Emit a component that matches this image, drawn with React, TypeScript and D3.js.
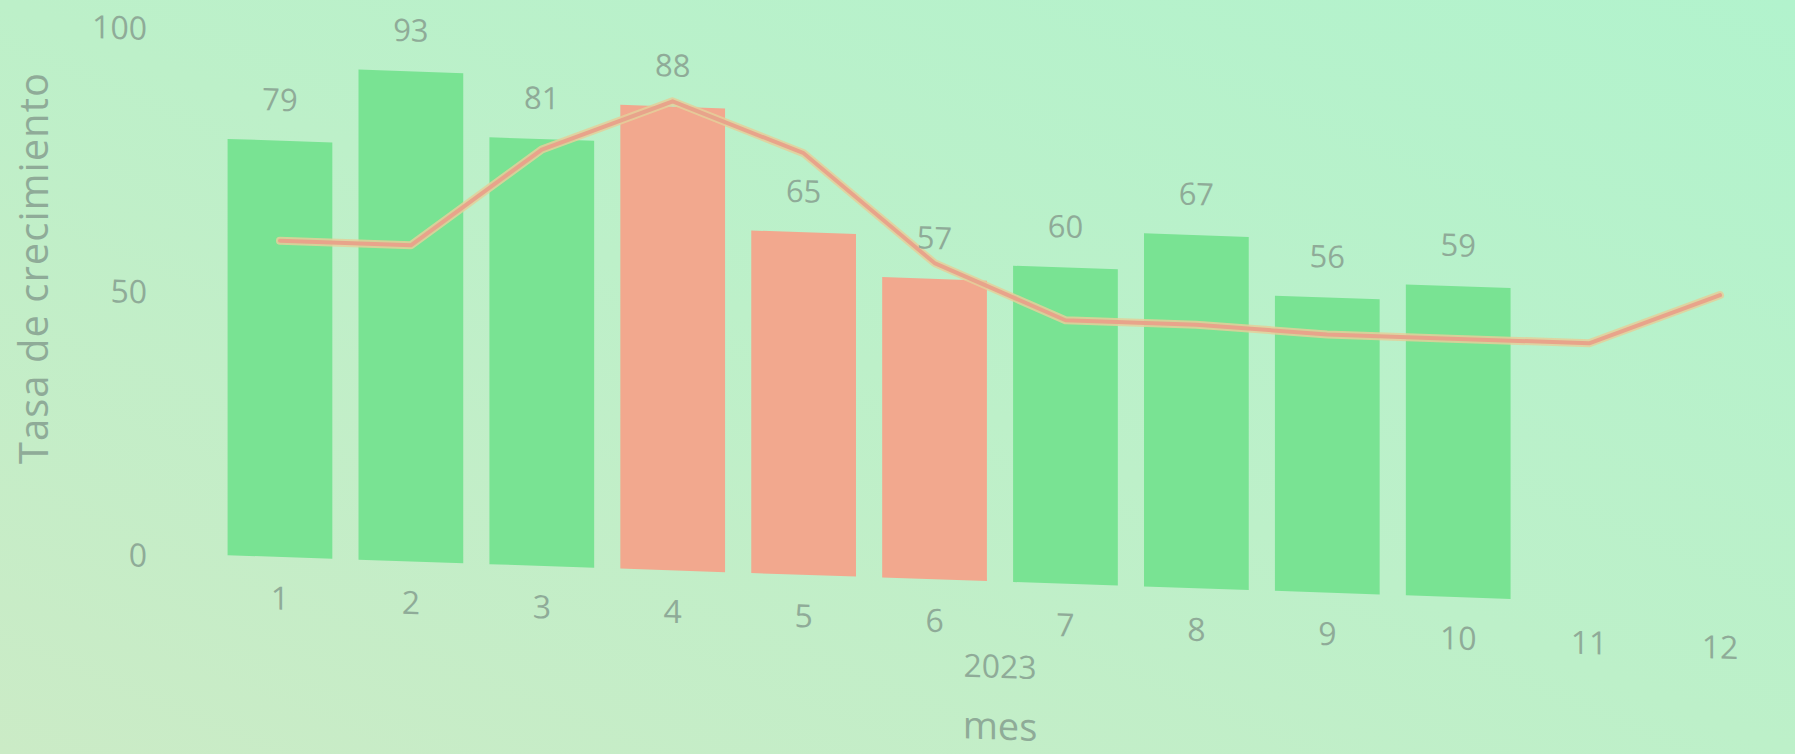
import React from "react";
import * as d3 from "d3";

// Monthly growth rate (bars, months 1–10) and the comparison line (all 12 months)
const months = ["1", "2", "3", "4", "5", "6", "7", "8", "9", "10", "11", "12"];
const growthRate = [79, 93, 81, 88, 65, 57, 60, 67, 56, 59];
const comparison = [60, 60, 79, 89, 80, 60, 50, 50, 49, 49, 49, 59];
const yTicks = [0, 50, 100];
const yearLabel = "2023";
const xTitle = "mes";
const yTitle = "Tasa de crecimiento";

const W = 1795;
const H = 754;
const FONT = "'Segoe UI', 'Open Sans', 'Noto Sans', sans-serif";
const TEXT = "#8fab98";
const GREEN = "#79e393";
const RED = "#f2a88e";

export default function App() {
  const x = d3
    .scaleBand<string>()
    .domain(months)
    .range([214.5, 1785.5])
    .paddingInner(0.2)
    .paddingOuter(0.1);
  const y = d3.scaleLinear().domain([0, 100]).range([557, 30]);
  const cx = (m: string) => (x(m) ?? 0) + x.bandwidth() / 2;

  const line = d3
    .line<number>()
    .x((_, i) => cx(months[i]))
    .y((d) => y(d));

  // the whole plot leans slightly downward to the right
  const tilt = `translate(280,0) skewY(1.95) translate(-280,0)`;

  return (
    <svg
      width={W}
      height={H}
      style={{ position: "absolute", left: 0, top: 0, display: "block" }}
      fontFamily={FONT}
    >
      <defs>
        <linearGradient id="bg" x1="1" y1="0" x2="0" y2="1">
          <stop offset="0" stopColor="#b2f3cd" />
          <stop offset="0.5" stopColor="#bdf0c9" />
          <stop offset="1" stopColor="#cbebc6" />
        </linearGradient>
      </defs>
      <rect width={W} height={H} fill="url(#bg)" />

      <g transform={tilt}>
        {/* y tick labels */}
        {yTicks.map((t) => (
          <text
            key={t}
            x={147}
            y={y(t) + 2}
            textAnchor="end"
            dominantBaseline="central"
            fontSize={32}
            fill={TEXT}
          >
            {t}
          </text>
        ))}

        {/* bars, red where the month falls below the comparison line */}
        {growthRate.map((v, i) => (
          <rect
            key={months[i]}
            x={x(months[i])}
            y={y(v)}
            width={x.bandwidth()}
            height={y(0) - y(v)}
            fill={v >= comparison[i] ? GREEN : RED}
          />
        ))}

        {/* comparison line */}
        <path
          d={line(comparison) ?? ""}
          fill="none"
          stroke="#e4cf9a"
          strokeWidth={8}
          strokeLinejoin="round"
          strokeLinecap="round"
          opacity={0.85}
        />
        <path
          d={line(comparison) ?? ""}
          fill="none"
          stroke="#e8a48b"
          strokeWidth={4}
          strokeLinejoin="round"
          strokeLinecap="round"
        />

        {/* value labels */}
        {growthRate.map((v, i) => (
          <text
            key={months[i]}
            x={cx(months[i])}
            y={y(v) - 42}
            textAnchor="middle"
            dominantBaseline="central"
            fontSize={31}
            fill={TEXT}
          >
            {v}
          </text>
        ))}

        {/* x tick labels */}
        {months.map((m) => (
          <text
            key={m}
            x={cx(m)}
            y={y(0) + 40}
            textAnchor="middle"
            dominantBaseline="central"
            fontSize={32}
            fill={TEXT}
          >
            {m}
          </text>
        ))}

        <text
          x={1000}
          y={y(0) + 84}
          textAnchor="middle"
          dominantBaseline="central"
          fontSize={32}
          fill={TEXT}
        >
          {yearLabel}
        </text>
        <text
          x={1000}
          y={y(0) + 143}
          textAnchor="middle"
          dominantBaseline="central"
          fontSize={38}
          fill={TEXT}
        >
          {xTitle}
        </text>
      </g>

      <text
        transform={`translate(32,268) rotate(-90)`}
        textAnchor="middle"
        dominantBaseline="central"
        fontSize={40}
        letterSpacing={1}
        fill={TEXT}
      >
        {yTitle}
      </text>
    </svg>
  );
}
